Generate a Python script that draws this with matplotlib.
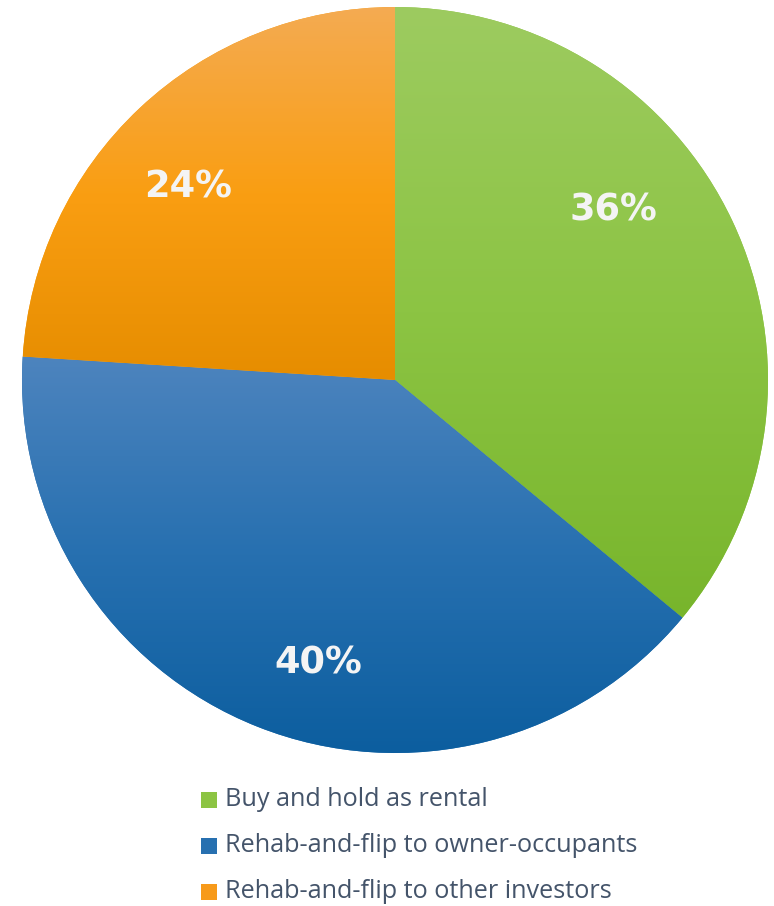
import numpy as np
import matplotlib
matplotlib.use("Agg")
import matplotlib.pyplot as plt
from matplotlib.colors import LinearSegmentedColormap
from matplotlib.patches import Rectangle

# investor exit strategy shares
categories = ["Buy and hold as rental",
              "Rehab-and-flip to owner-occupants",
              "Rehab-and-flip to other investors"]
shares = [36, 40, 24]

# vertical gradient stops for each slice (top -> bottom)
slice_grads = [["#9DCB60", "#8CC443", "#78B52C"],
               ["#4D84BE", "#2770B0", "#0C5E9F"],
               ["#F4AB52", "#FA9E12", "#E68D00"]]
legend_cols = ["#8CC443", "#2770B0", "#F79A1A"]

# where the percentage labels sit (pixels from top-left)
label_xy = [(613, 210), (318, 663), (188, 187)]

W, H = 774, 906
fig = plt.figure(figsize=(W / 100, H / 100), dpi=100)
ax = fig.add_axes([0, 0, 1, 1])

cx, cy, R = 395, H - 380, 373
wedges, _ = ax.pie(shares, startangle=90, counterclock=False,
                   radius=R, center=(cx, cy),
                   wedgeprops=dict(linewidth=0))

for w, stops in zip(wedges, slice_grads):
    ext = w.get_path().get_extents()
    cmap = LinearSegmentedColormap.from_list("g", stops)
    grad = np.linspace(0, 1, 256).reshape(-1, 1)
    im = ax.imshow(grad, cmap=cmap, aspect="auto", origin="upper",
                   extent=(ext.x0, ext.x1, ext.y0, ext.y1), zorder=2,
                   interpolation="bilinear")
    im.set_clip_path(w)
    w.set_facecolor(stops[1])

for (x, y), v in zip(label_xy, shares):
    ax.text(x, H - y, f"{v}%", ha="center", va="center", zorder=5,
            fontsize=26.5, fontweight="bold", family="DejaVu Sans",
            color="#F4F4F4")

# legend rows below the pie
for i, (name, c) in enumerate(zip(categories, legend_cols)):
    yy = H - (800 + 46 * i)
    ax.add_patch(Rectangle((201, yy - 8), 16, 16, facecolor=c,
                           linewidth=0, zorder=5))
    ax.text(225, yy, name, ha="left", va="center", fontsize=18.2,
            family="Open Sans", color="#44546A", zorder=5)

ax.set_xlim(0, W)
ax.set_ylim(0, H)
ax.set_aspect("auto")
ax.axis("off")

fig.savefig("out.png", dpi=100)
